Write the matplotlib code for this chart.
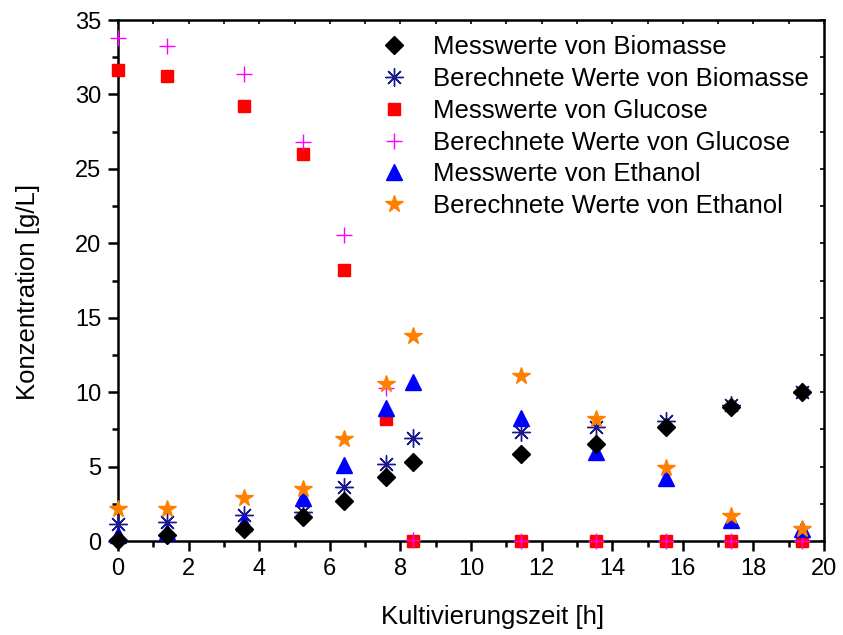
import matplotlib
matplotlib.use("Agg")
import matplotlib.pyplot as plt
from matplotlib.ticker import MultipleLocator

plt.rcParams['font.family'] = ['Liberation Sans', 'DejaVu Sans']

time_h = [0, 1.38, 3.57, 5.23, 6.41, 7.59, 8.37, 11.42, 13.53, 15.51, 17.36, 19.39]

bio_meas = [0.1, 0.4, 0.79, 1.59, 2.71, 4.3, 5.33, 5.82, 6.54, 7.66, 9.02, 9.99]
bio_calc = [1.14, 1.25, 1.75, 1.97, 3.65, 5.15, 6.94, 7.30, 7.68, 8.06, 9.16, 9.99]
glc_meas = [31.64, 31.24, 29.22, 26.02, 18.23, 8.17, 0.0, 0.0, 0.0, 0.0, 0.0, 0.0]
glc_calc = [33.8, 33.23, 31.35, 26.8, 20.56, 10.26, 0.05, 0.0, 0.0, 0.0, 0.0, 0.0]
eth_meas = [0.4, 0.63, 1.23, 2.91, 5.1, 8.96, 10.7, 8.28, 5.96, 4.25, 1.41, 0.79]
eth_calc = [2.15, 2.13, 2.87, 3.47, 6.87, 10.55, 13.77, 11.08, 8.2, 4.93, 1.68, 0.79]

labels = ["Messwerte von Biomasse", "Berechnete Werte von Biomasse",
          "Messwerte von Glucose", "Berechnete Werte von Glucose",
          "Messwerte von Ethanol", "Berechnete Werte von Ethanol"]

fig = plt.figure(figsize=(8.43, 6.35), dpi=100)
ax = fig.add_axes([0.140, 0.148, 0.8375, 0.8205])

ax.plot(time_h, bio_meas, ls='none', marker='D', ms=9, color='black', label=labels[0], clip_on=False, zorder=5)
ax.plot(time_h, bio_calc, ls='none', marker=(8, 2, 0), ms=13, mew=1.0, color='#1a1a8c', label=labels[1], clip_on=False, zorder=4)
ax.plot(time_h, glc_meas, ls='none', marker='s', ms=9, color='#ff0000', label=labels[2], clip_on=False, zorder=3)
ax.plot(time_h, glc_calc, ls='none', marker='+', ms=12, mew=1.0, color='#ff00ff', label=labels[3], clip_on=False, zorder=3)
ax.plot(time_h, eth_meas, ls='none', marker='^', ms=11, color='#0000ff', label=labels[4], clip_on=False, zorder=4)
ax.plot(time_h, eth_calc, ls='none', marker='*', ms=13, color='#ff8000', label=labels[5], clip_on=False, zorder=4)

ax.set_xlim(0, 20)
ax.set_ylim(0, 35)
ax.xaxis.set_major_locator(MultipleLocator(2))
ax.xaxis.set_minor_locator(MultipleLocator(1))
ax.yaxis.set_major_locator(MultipleLocator(5))
ax.yaxis.set_minor_locator(MultipleLocator(2.5))
ax.tick_params(which='major', direction='out', length=7, width=1.8, labelsize=17, pad=5)
ax.tick_params(which='minor', direction='out', length=4, width=1.8)
for s in ax.spines.values():
    s.set_linewidth(1.8)

top = ax.secondary_xaxis('top')
top.xaxis.set_major_locator(MultipleLocator(2))
top.xaxis.set_minor_locator(MultipleLocator(1))
top.tick_params(which='both', direction='in', length=3, width=1.2, labeltop=False)
right = ax.secondary_yaxis('right')
right.yaxis.set_major_locator(MultipleLocator(5))
right.yaxis.set_minor_locator(MultipleLocator(2.5))
right.tick_params(which='both', direction='in', length=3, width=1.2, labelright=False)

ax.set_xlabel("Kultivierungszeit [h]", fontsize=18.5, labelpad=18)
ax.set_ylabel("Konzentration [g/L]", fontsize=18.5, labelpad=25)
ax.xaxis.label.set_x(0.530)
ax.yaxis.label.set_y(0.478)

leg = ax.legend(loc='upper right', bbox_to_anchor=(1.0, 1.0), frameon=False, fontsize=18.5,
                handlelength=1.0, handletextpad=1.0, labelspacing=0.30, borderaxespad=0.3,
                borderpad=0.3)

fig.savefig("out.png", dpi=100)
